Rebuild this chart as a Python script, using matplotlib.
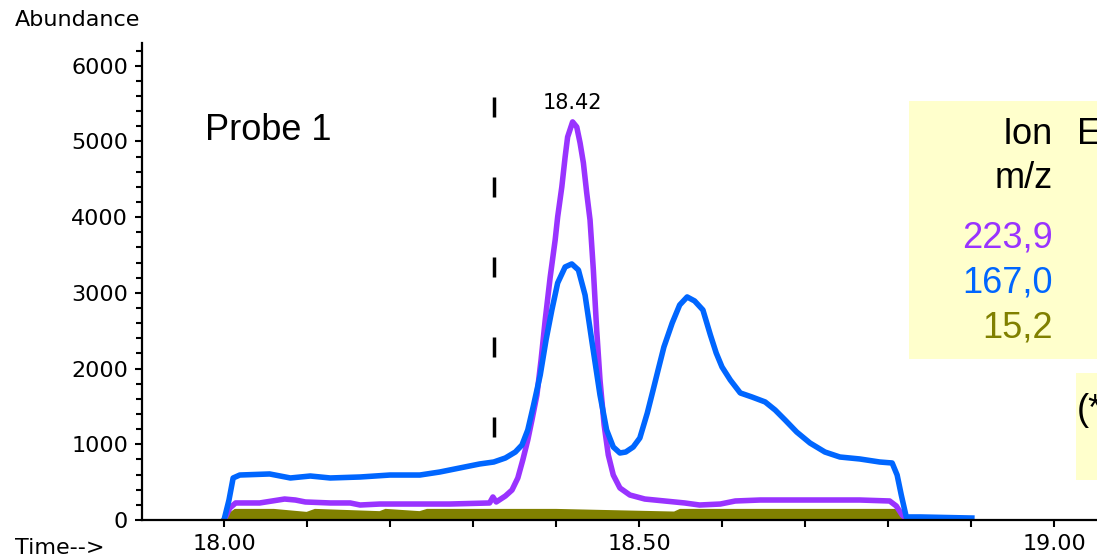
import matplotlib
matplotlib.use('Agg')
import matplotlib.pyplot as plt
from matplotlib.patches import Rectangle
from matplotlib.ticker import MultipleLocator, FixedLocator

# --- Data ---
t_blue = [18.000, 18.006, 18.011, 18.019, 18.055, 18.080, 18.104, 18.128, 18.164, 18.200,
          18.236, 18.260, 18.284, 18.308, 18.325, 18.339, 18.351, 18.359, 18.366, 18.373,
          18.381, 18.388, 18.395, 18.402, 18.411, 18.419, 18.427, 18.435, 18.443, 18.453,
          18.461, 18.469, 18.477, 18.484, 18.493, 18.501, 18.510, 18.517, 18.523, 18.530,
          18.540, 18.549, 18.558, 18.567, 18.577, 18.586, 18.593, 18.600, 18.610, 18.622,
          18.636, 18.652, 18.664, 18.676, 18.690, 18.706, 18.724, 18.742, 18.766, 18.790,
          18.805, 18.811, 18.816, 18.822, 18.839, 18.901]
abund_167 = [0, 264, 555, 594, 608, 555, 581, 555, 568, 594,
             594, 634, 687, 740, 766, 819, 898, 991, 1189, 1519,
             1915, 2378, 2774, 3131, 3342, 3382, 3302, 2972, 2378, 1651,
             1189, 964, 885, 898, 964, 1083, 1413, 1717, 1981, 2285,
             2602, 2840, 2946, 2893, 2774, 2444, 2206, 2021, 1849, 1678,
             1625, 1559, 1453, 1321, 1162, 1017, 898, 832, 806, 766,
             753, 594, 330, 40, 40, 26]

t_purple = [18.000, 18.007, 18.014, 18.043, 18.073, 18.086, 18.098, 18.128, 18.152, 18.164,
            18.188, 18.224, 18.272, 18.320, 18.324, 18.328, 18.339, 18.347, 18.354, 18.360,
            18.366, 18.371, 18.377, 18.382, 18.387, 18.393, 18.399, 18.402, 18.407, 18.411,
            18.414, 18.420, 18.425, 18.429, 18.433, 18.437, 18.441, 18.445, 18.449, 18.453,
            18.458, 18.463, 18.469, 18.477, 18.489, 18.507, 18.531, 18.555, 18.573, 18.598,
            18.616, 18.646, 18.694, 18.766, 18.802, 18.810, 18.817, 18.822]
abund_224 = [0, 158, 225, 225, 277, 264, 238, 225, 225, 198,
             211, 211, 211, 225, 304, 238, 317, 396, 555, 793,
             1057, 1321, 1651, 2114, 2642, 3210, 3699, 4003, 4399, 4795,
             5059, 5258, 5191, 4980, 4716, 4320, 3963, 3302, 2510, 1849,
             1255, 859, 594, 423, 330, 277, 251, 225, 198, 211,
             251, 264, 264, 264, 251, 185, 66, 13]

t_olive = [18.000, 18.014, 18.060, 18.100, 18.110, 18.188, 18.195, 18.236, 18.245, 18.400,
           18.543, 18.550, 18.700, 18.808, 18.822]
abund_15 = [0, 110, 110, 70, 110, 80, 110, 80, 110, 110,
            75, 110, 110, 110, 0]

ions = ['223,9', '167,0', '15,2']
ion_colors = ['#9933ff', '#0066ff', '#808000']
peak_rt = 18.42
marker_rt = 18.325

W, H = 1097, 560


def fx(px):
    return px / W


def fy(py):
    return 1 - py / H


fig = plt.figure(figsize=(W / 100, H / 100), dpi=100)
ax = fig.add_axes([fx(142), fy(520), 1 - fx(142), (520 - 43) / H])

# Traces
ax.fill_between(t_olive, 0, abund_15, color=ion_colors[2], lw=0)
ax.plot(t_olive, abund_15, color=ion_colors[2], lw=4, solid_joinstyle='miter')
ax.plot(t_purple, abund_224, color=ion_colors[0], lw=4)
ax.plot(t_blue, abund_167, color=ion_colors[1], lw=4)

# Dashed marker line
ax.plot([marker_rt, marker_rt], [5590, 1100], color='black', lw=2.5,
        dashes=(5.76, 17.28), solid_capstyle='butt')

# Peak label
ax.text(peak_rt, 5370, f'{peak_rt:.2f}', ha='center', va='bottom',
        fontsize=15, family='DejaVu Sans')

ax.set_xlim(17.9012, 19.0518)
ax.set_ylim(0, 6300)

for side in ['top', 'right']:
    ax.spines[side].set_visible(False)
for side in ['left', 'bottom']:
    ax.spines[side].set_linewidth(1.6)

ax.xaxis.set_major_locator(FixedLocator([18.0, 18.5, 19.0]))
ax.xaxis.set_minor_locator(FixedLocator([18.1, 18.2, 18.3, 18.4, 18.6, 18.7, 18.8, 18.9]))
ax.xaxis.set_major_formatter(plt.FuncFormatter(lambda v, p: f'{v:.2f}'))
ax.yaxis.set_major_locator(MultipleLocator(1000))
ax.yaxis.set_minor_locator(MultipleLocator(200))

ax.tick_params(axis='both', which='both', direction='out', width=1.5, color='black',
               labelsize=16)
ax.tick_params(axis='x', which='both', length=5, pad=5)
ax.tick_params(axis='y', which='major', length=5, pad=5)
ax.tick_params(axis='y', which='minor', length=4)
for lab in ax.get_xticklabels() + ax.get_yticklabels():
    lab.set_family('DejaVu Sans')

fig.text(fx(15), fy(20), 'Abundance', ha='left', va='center', fontsize=16)
fig.text(fx(15), fy(548), 'Time-->', ha='left', va='center', fontsize=16)

# Annotation text in Arial-like font
sans = 'Liberation Sans'
fig.text(fx(205), fy(130), 'Probe 1', ha='left', va='center', fontsize=26, family=sans)

# Legend box (cut by the right edge, as in the original slide)
fig.patches.append(Rectangle((fx(909), fy(359)), fx(1097) - fx(909) + 0.01, (359 - 101) / H,
                             transform=fig.transFigure, facecolor='#ffffcc', edgecolor='none',
                             zorder=0))
fig.patches.append(Rectangle((fx(1076), fy(480)), fx(1097) - fx(1076) + 0.01, (480 - 373) / H,
                             transform=fig.transFigure, facecolor='#ffffcc', edgecolor='none',
                             zorder=0))

fig.text(fx(1053), fy(135), 'Ion', ha='right', va='center', fontsize=26, family=sans)
fig.text(fx(1053), fy(178), 'm/z', ha='right', va='center', fontsize=26, family=sans)
fig.text(fx(1077), fy(135), 'E', ha='left', va='center', fontsize=26, family=sans)
for i, (ion, c) in enumerate(zip(ions, ion_colors)):
    fig.text(fx(1053), fy(238 + 45 * i), ion, ha='right', va='center', fontsize=26,
             family=sans, color=c)
fig.text(fx(1077), fy(410), '(*', ha='left', va='center', fontsize=26, family=sans)

fig.savefig('out.png', dpi=100)
